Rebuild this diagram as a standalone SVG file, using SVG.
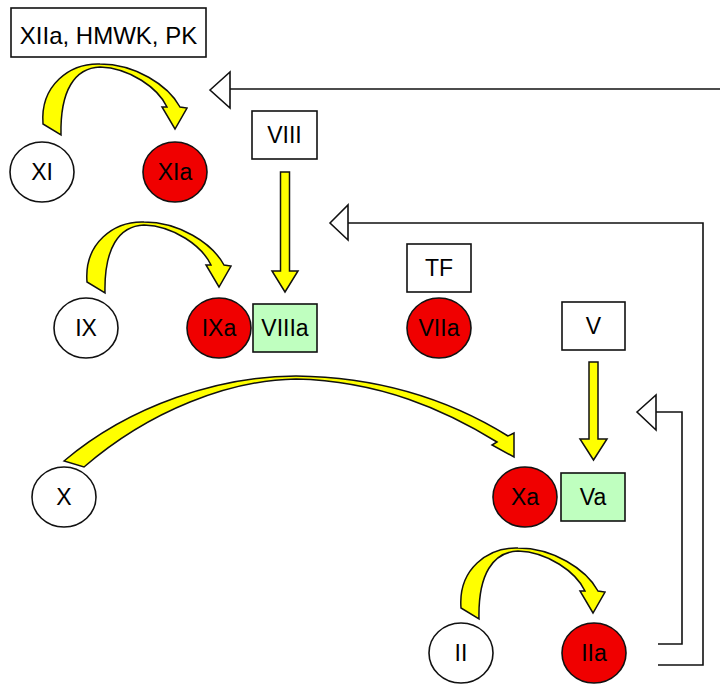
<svg xmlns="http://www.w3.org/2000/svg" xmlns:xlink="http://www.w3.org/1999/xlink" width="720" height="684" viewBox="0 0 720 684">
<style>
  .box { fill: #ffffff; stroke: #111111; stroke-width: 1.6; }
  .boxg { fill: #bfffbf; stroke: #111111; stroke-width: 1.6; }
  .c { fill: #ffffff; stroke: #111111; stroke-width: 1.6; }
  .cr { fill: #f00000; stroke: #111111; stroke-width: 1.6; }
  .t { font-family: "Liberation Sans", Arial, sans-serif; font-size: 23px; fill: #000000; text-anchor: middle; }
  .ya { fill: #ffff00; stroke: #111111; stroke-width: 1.5; stroke-linejoin: miter; }
  .fb { fill: none; stroke: #111111; stroke-width: 1.6; }
  .tri { fill: #ffffff; stroke: #111111; stroke-width: 1.6; }
</style>
<defs>
  <path id="curv" class="ya" d="M43,124 C40,85 70,63 100,64 C135,64 168,85 180,107 L187,108 L175,129 L162,107 L167,107 C158,88 130,68 100,67 C75,68 60,90 61,135 Z"/>
</defs>

<g id="connectors">
  <!-- curved yellow conversions -->
  <use xlink:href="#curv" href="#curv"/>
  <use xlink:href="#curv" href="#curv" transform="translate(44,158)"/>
  <use xlink:href="#curv" href="#curv" transform="translate(418,484)"/>
  <path class="ya" d="M64,461 C130,405 220,376 296,376 C380,377 450,400 508,436 L514,433 L514,457 L492,445 L497,442 C445,410 380,381 296,379 C230,380 150,410 84,467 Z"/>
  <!-- straight yellow arrows -->
  <path class="ya" d="M280.5,172 L289.5,172 L289.5,271 L298,271 L285,292 L272,271 L280.5,271 Z"/>
  <path class="ya" d="M589,362 L598,362 L598,439 L607,439 L593.5,460 L580,439 L589,439 Z"/>
  <!-- feedback lines -->
  <polyline class="fb" points="720,89 230,89"/>
  <polygon class="tri" points="210,90 230,72 230,108"/>
  <polyline class="fb" points="658,665 703,665 703,223 348,223"/>
  <polygon class="tri" points="330,223 348,205 348,240"/>
  <polyline class="fb" points="658,644 682,644 682,412 656,412"/>
  <polygon class="tri" points="637,412 656,395 656,430"/>
</g>

<g id="n-xiia"><rect class="box" x="11" y="8" width="195" height="49"/><text class="t" x="108.5" y="44" style="font-size:24px">XIIa, HMWK, PK</text></g>
<g id="n-xi"><ellipse class="c" cx="42" cy="172" rx="32" ry="30"/><text class="t" x="42" y="180">XI</text></g>
<g id="n-xia"><ellipse class="cr" cx="175" cy="172" rx="32" ry="30"/><text class="t" x="175" y="180">XIa</text></g>
<g id="n-viii"><rect class="box" x="252" y="111" width="65" height="48"/><text class="t" x="284.5" y="143">VIII</text></g>
<g id="n-ix"><ellipse class="c" cx="86" cy="328" rx="32" ry="30"/><text class="t" x="86" y="336">IX</text></g>
<g id="n-ixa"><ellipse class="cr" cx="219" cy="328" rx="32" ry="30"/><text class="t" x="219" y="336">IXa</text></g>
<g id="n-viiia"><rect class="boxg" x="253" y="304" width="64" height="48"/><text class="t" x="285" y="336">VIIIa</text></g>
<g id="n-tf"><rect class="box" x="407" y="244" width="64" height="48"/><text class="t" x="439" y="276">TF</text></g>
<g id="n-viia"><ellipse class="cr" cx="439" cy="328" rx="32" ry="30"/><text class="t" x="439" y="336">VIIa</text></g>
<g id="n-v"><rect class="box" x="562" y="302" width="63" height="48"/><text class="t" x="593.5" y="334">V</text></g>
<g id="n-x"><ellipse class="c" cx="64" cy="497" rx="32" ry="30"/><text class="t" x="64" y="505">X</text></g>
<g id="n-xa"><ellipse class="cr" cx="525" cy="497" rx="32" ry="30"/><text class="t" x="525" y="505">Xa</text></g>
<g id="n-va"><rect class="boxg" x="561" y="473" width="64" height="48"/><text class="t" x="593" y="505">Va</text></g>
<g id="n-ii"><ellipse class="c" cx="461" cy="653" rx="32" ry="30"/><text class="t" x="461" y="661">II</text></g>
<g id="n-iia"><ellipse class="cr" cx="594" cy="653" rx="32" ry="30"/><text class="t" x="594" y="661">IIa</text></g>
</svg>
